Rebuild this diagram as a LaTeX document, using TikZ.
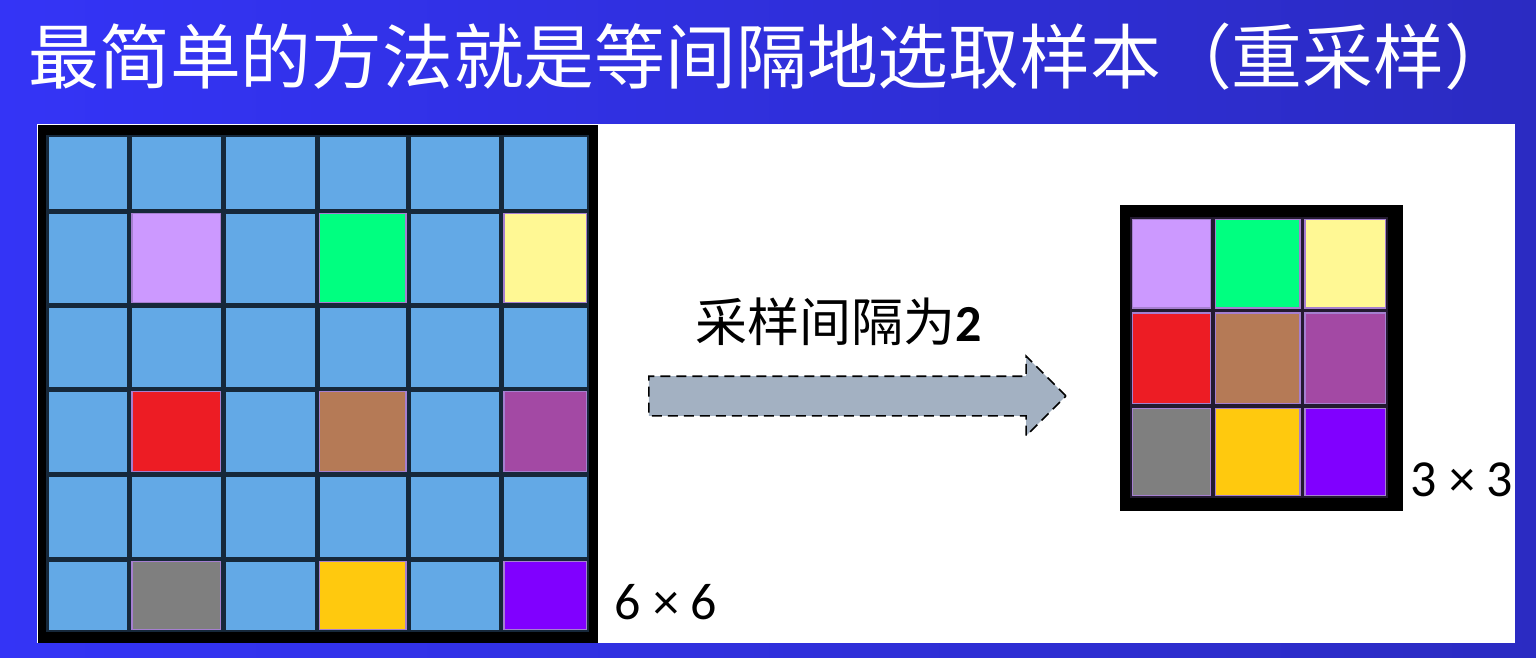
\documentclass[tikz,border=0pt]{standalone}
\usepackage{fontspec}
\setsansfont{Carlito}
\newfontfamily\cjk{Noto Sans CJK SC}
\usepackage{tikz}
\usetikzlibrary{positioning,shapes.arrows}
\definecolor{SlideBlue}{HTML}{3434F6}
\definecolor{SlideBlueDark}{HTML}{2B2BC2}
\definecolor{CellBlue}{HTML}{63A9E6}
\definecolor{GridLine}{HTML}{16283A}
\definecolor{GridDark}{HTML}{231A30}
\definecolor{CellEdge}{HTML}{A57FD0}
\definecolor{ArrowFill}{HTML}{A3B1C2}
\definecolor{CLav}{HTML}{CC99FF}
\definecolor{CGreen}{HTML}{00FF80}
\definecolor{CYellow}{HTML}{FFF894}
\definecolor{CRed}{HTML}{ED1C24}
\definecolor{CBrown}{HTML}{B57A56}
\definecolor{CPurple}{HTML}{A349A4}
\definecolor{CGray}{HTML}{7F7F7F}
\definecolor{CGold}{HTML}{FFC90E}
\definecolor{CViolet}{HTML}{8000FF}

\begin{document}
\begin{tikzpicture}[x=0.5pt,y=-0.5pt,
        ttl/.style={anchor=west,text=white,inner sep=0pt,font=\cjk\fontsize{35.4pt}{37pt}\selectfont},
        dimlbl/.style={inner sep=0pt,font=\sffamily\fontsize{26pt}{28pt}\selectfont},
        steplbl/.style={inner sep=0pt,font=\fontsize{26pt}{28pt}\selectfont},
        blockarr/.style={single arrow,draw=black,fill=ArrowFill,line width=0.8pt,dash pattern=on 5pt off 3pt,
          minimum height=208.5pt,minimum width=39pt,single arrow head extend=10pt,inner xsep=0pt,inner ysep=9.5pt},
        cell/.style={draw=CellEdge,line width=0.6pt}]
        \useasboundingbox (0,0) rectangle (1536,658);
        \shade[left color=SlideBlue,right color=SlideBlueDark] (0,0) rectangle (1536,658);
        \fill[white] (37,124) rectangle (1515,643);
        \node[ttl] (title) at (28,57) {最简单的方法就是等间隔地选取样本（重采样）};
        % 6x6 input
        \fill[black] (38,125) rectangle (598,643); \fill[GridLine] (46,135) rectangle (589,632);
        \foreach \xa/\xb in {46/129.5,129.5/223,223/317,317/408.5,408.5/501.5,501.5/589}
          \foreach \ya/\yb in {135/211,211/305,305/389,389/474,474/559,559/632}
            \fill[CellBlue] (\xa+2.5,\ya+2.5) rectangle (\xb-2.5,\yb-2.5);
        % 3x3 output
        \fill[black] (1120,205) rectangle (1403,511); \fill[GridDark] (1130,217) rectangle (1388,498);
        \foreach \c [count=\k from 0] in {CLav,CGreen,CYellow,CRed,CBrown,CPurple,CGray,CGold,CViolet}{
          \pgfmathtruncatemacro\i{mod(\k,3)} \pgfmathtruncatemacro\j{div(\k,3)}
          \pgfmathsetmacro\lxa{{129.5,317,501.5}[\i]} \pgfmathsetmacro\lxb{{223,408.5,589}[\i]}
          \pgfmathsetmacro\lya{{211,389,559}[\j]} \pgfmathsetmacro\lyb{{305,474,632}[\j]}
          \pgfmathsetmacro\rxa{{1130,1213,1302.5}[\i]} \pgfmathsetmacro\rxb{{1213,1302.5,1388}[\i]}
          \pgfmathsetmacro\rya{{217,310.5,406}[\j]} \pgfmathsetmacro\ryb{{310.5,406,498}[\j]}
          \filldraw[cell,fill=\c] (\lxa+2.5,\lya+2.5) rectangle (\lxb-2.5,\lyb-2.5);
          \filldraw[cell,fill=\c] (\rxa+2.5,\rya+2.5) rectangle (\rxb-2.5,\ryb-2.5);
        }
        \node[dimlbl] (in) at (666,602) {6 × 6};
        \node[dimlbl] (out) at (1462,480) {3 × 3};
        \node[blockarr] (arr) at (847.5,396) {};
        \node[steplbl] (step2) at (839,322) {{\cjk 采样间隔为}{\sffamily\bfseries 2}};
      \end{tikzpicture}
\end{document}
